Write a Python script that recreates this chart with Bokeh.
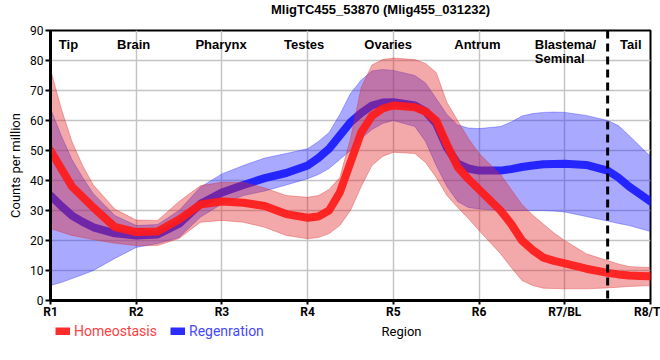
from bokeh.plotting import figure
from bokeh.layouts import column
from bokeh.models import Label, Legend, LegendItem, Span, FixedTicker, Range1d
from bokeh.embed import file_html
from bokeh.resources import INLINE

# ---------------- data ----------------
region_x = [1.0, 1.125, 1.25, 1.375, 1.5, 1.75, 2.0, 2.25, 2.5, 2.75, 3.0, 3.25, 3.5, 3.75,
            4.0, 4.125, 4.25, 4.375, 4.5, 4.625, 4.75, 4.875, 5.0, 5.25, 5.375, 5.5, 5.625,
            5.75, 5.875, 6.0, 6.25, 6.375, 6.5, 6.625, 6.75, 6.875, 7.0, 7.25, 7.5, 7.625,
            7.75, 7.875, 8.0]

homeo_mean = [50, 44, 38, 34.5, 31, 24.5, 22.8, 23, 27, 32, 33, 32.6, 31.5, 28.8,
              27.6, 28, 30, 36, 46, 56, 61.5, 64, 65, 64.4, 63, 60, 52,
              44.5, 40.5, 37, 30, 25.5, 20, 16.8, 14.3, 13.2, 12.4, 10.6, 9.2, 8.7,
              8.3, 8.2, 8.1]
homeo_upper = [77, 64, 53, 45, 38.5, 30.5, 26.8, 26.7, 33, 38.3, 39.4, 39.4, 37.5, 35,
               34.4, 35, 37, 41, 54, 71, 78.5, 80.3, 80.8, 80.3, 79, 76, 66,
               60, 54, 49, 42, 37, 32, 28.5, 25.5, 22.5, 20, 15.6, 13.3, 12.2,
               11.3, 11.1, 11]
homeo_lower = [24, 22.8, 21.7, 21, 20.3, 19.1, 18.3, 18.3, 20.7, 26.1, 26.7, 26.1, 24.4, 21.7,
               20.6, 21, 22.3, 25, 30, 38, 45, 48, 49.4, 49, 46, 41, 35,
               31, 27.3, 23.3, 15.6, 11, 6.7, 5, 4.1, 4, 3.9, 3.9, 4.2, 4.4,
               4.7, 4.8, 5]

regen_mean = [35, 31.5, 28.3, 26.2, 24.4, 22.4, 21.7, 22, 25.6, 32.2, 36, 38.5, 40.8, 42.5,
              45, 47.5, 50.6, 55, 59.4, 62.5, 65, 66, 66.1, 65, 63, 59, 51,
              45.6, 44, 43.3, 43.3, 43.8, 44.5, 45, 45.4, 45.5, 45.6, 45.2, 43.3, 41,
              38, 35.5, 33]
regen_upper = [64, 55, 47, 41, 35.6, 28.3, 25, 25.3, 30, 37.8, 42.2, 45, 47.5, 49,
               50.6, 53, 56, 62, 69, 73.5, 76.5, 77, 76.7, 75, 72.5, 67.3, 62,
               58.5, 57.5, 57.3, 58, 59.5, 61.5, 62.3, 62.7, 62.8, 62.7, 61.7, 60, 58.3,
               55, 51.5, 48]
regen_lower = [5, 6, 7.3, 8.6, 10, 14, 17.7, 19, 21, 27.8, 32.2, 35, 36.5, 38.5,
               40.6, 42, 44, 47, 50, 54, 57, 59, 60, 58, 53, 45, 38,
               33, 31, 30.5, 30, 30, 30, 30, 30, 29.8, 29.5, 28, 26.5, 25.7,
               25, 24, 23]

tick_positions = [1, 2, 3, 4, 5, 6, 7, 8]
tick_labels = ["R1", "R2", "R3", "R4", "R5", "R6", "R7/BL", "R8/T"]
y_ticks = [0, 10, 20, 30, 40, 50, 60, 70, 80, 90]

region_names = ["Tip", "Brain", "Pharynx", "Testes", "Ovaries", "Antrum", "Tail"]
region_name_x = [1.21, 1.97, 2.99, 3.96, 4.94, 5.98, 7.77]
blastema_lines = ["Blastema/", "Seminal"]
boundary_x = 7.5

series_names = ["Homeostasis", "Regenration"]
title = "MligTC455_53870 (Mlig455_031232)"

RED_FILL = "#e02828"
BLUE_FILL = "#2828ff"
RED_LINE = "#ff1a1a"
BLUE_LINE = "#1a1aff"


def strip(height):
    f = figure(frame_width=660, frame_height=height, x_range=(0, 660), y_range=(0, height),
               output_backend="svg", toolbar_location=None,
               x_axis_type=None, y_axis_type=None,
               min_border_left=0, min_border_right=0, min_border_top=0, min_border_bottom=0)
    f.outline_line_color = None
    f.xgrid.visible = False
    f.ygrid.visible = False
    return f


# ---------------- title strip ----------------
t = strip(22)
t.add_layout(Label(x=330, y=13, text=title, text_align="center", text_baseline="middle",
                   text_font="Liberation Sans", text_font_style="bold",
                   text_font_size="13px", text_color="black"))

# ---------------- main figure ----------------
p = figure(frame_width=600, frame_height=270, x_range=(1, 8), y_range=(0, 90),
           output_backend="svg", toolbar_location=None,
           min_border_left=50, min_border_right=10, min_border_top=8, min_border_bottom=18)
p.background_fill_color = "white"
p.outline_line_color = "black"
p.outline_line_width = 2

# regeneration band + line
p.varea(x=region_x, y1=regen_lower, y2=regen_upper, fill_color=BLUE_FILL, fill_alpha=0.4)
p.line(region_x, regen_upper, line_color=BLUE_FILL, line_alpha=0.35, line_width=1)
p.line(region_x, regen_lower, line_color=BLUE_FILL, line_alpha=0.35, line_width=1)
p.line(region_x, regen_mean, line_color=BLUE_LINE, line_alpha=0.92, line_width=8,
       line_join="round", line_cap="round")

# homeostasis band + line
p.varea(x=region_x, y1=homeo_lower, y2=homeo_upper, fill_color=RED_FILL, fill_alpha=0.4)
p.line(region_x, homeo_upper, line_color=RED_FILL, line_alpha=0.35, line_width=1)
p.line(region_x, homeo_lower, line_color=RED_FILL, line_alpha=0.35, line_width=1)
p.line(region_x, homeo_mean, line_color=RED_LINE, line_alpha=0.92, line_width=8,
       line_join="round", line_cap="round")

p.add_layout(Span(location=boundary_x, dimension="height", line_color="black",
                  line_width=3, line_dash="8 5"))

# axes
p.xaxis.ticker = FixedTicker(ticks=tick_positions)
p.xaxis.major_label_overrides = {t_: l for t_, l in zip(tick_positions, tick_labels)}
p.yaxis.ticker = FixedTicker(ticks=y_ticks)
p.xgrid.ticker = FixedTicker(ticks=tick_positions)
p.ygrid.ticker = FixedTicker(ticks=y_ticks)
for g in (p.xgrid, p.ygrid):
    g.grid_line_color = "#c4c4c4"
    g.grid_line_width = 1.5

for ax in (p.xaxis, p.yaxis):
    ax.axis_line_color = "black"
    ax.axis_line_width = 3
    ax.major_tick_line_color = "black"
    ax.major_tick_line_width = 2
    ax.major_tick_out = 5
    ax.major_tick_in = 0
    ax.minor_tick_line_color = None
    ax.major_label_text_color = "black"
    ax.major_label_text_font = "Roboto"
    ax.major_label_text_font_size = "12px"
    ax.axis_label_text_font = "Roboto"
    ax.axis_label_text_font_size = "13px"
    ax.axis_label_text_font_style = "normal"
    ax.axis_label_text_color = "black"

p.xaxis.major_tick_out = 4
p.xaxis.major_label_text_font_style = "bold"
p.xaxis.major_label_standoff = 0
p.yaxis.major_label_standoff = 2
p.yaxis.axis_label = "Counts per million"
p.yaxis.axis_label_standoff = 4

# region names
for name, xx in zip(region_names, region_name_x):
    p.add_layout(Label(x=xx, y=85.3, text=name, text_align="center", text_baseline="alphabetic",
                       text_font="Liberation Sans", text_font_style="bold",
                       text_font_size="13px", text_color="black"))
for i, line_text in enumerate(blastema_lines):
    p.add_layout(Label(x=6.65, y=85.3 - i * 4.67, text=line_text, text_align="left",
                       text_baseline="alphabetic", text_font="Liberation Sans",
                       text_font_style="bold", text_font_size="13px", text_color="black"))

# ---------------- legend / x-axis title strip ----------------
q = strip(32)
# the series are mapped onto a range far outside this strip: only their legend swatches show
q.extra_y_ranges = {"offstrip": Range1d(1000, 1030)}

leg_h = q.line(region_x, homeo_mean, line_color=RED_LINE, line_alpha=0.92, line_width=8,
               y_range_name="offstrip")
leg_r = q.line(region_x, regen_mean, line_color=BLUE_LINE, line_alpha=0.92, line_width=8,
               y_range_name="offstrip")


def make_legend(label, rend, color, loc):
    return Legend(items=[LegendItem(label=label, renderers=[rend])], location=loc,
                  orientation="horizontal", padding=0, margin=0, spacing=0,
                  glyph_width=15, glyph_height=8, label_height=16, label_standoff=4,
                  label_text_color=color, label_text_font="Roboto",
                  label_text_font_size="14px", background_fill_alpha=0,
                  border_line_alpha=0)


q.add_layout(make_legend(series_names[0], leg_h, "#ff4040", (55, 14)))
q.add_layout(make_legend(series_names[1], leg_r, "#4848ff", (170, 14)))
q.add_layout(Label(x=351, y=22, text="Region", text_align="center", text_baseline="middle",
                   text_font="Roboto", text_font_size="13px", text_color="black"))

layout = column(t, p, q, spacing=0)
open("out.html", "w").write(file_html(layout, INLINE))
